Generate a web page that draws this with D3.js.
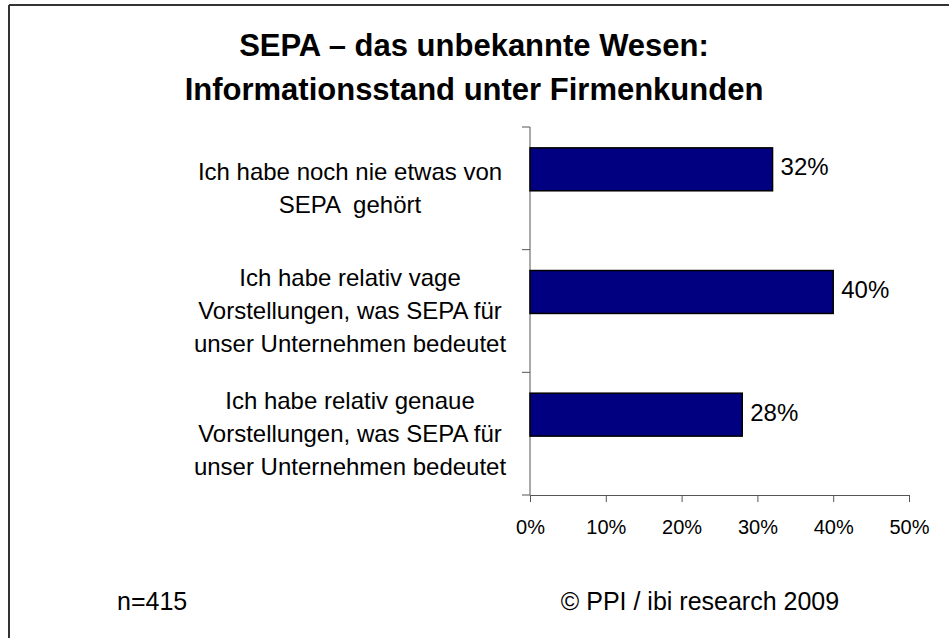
<!DOCTYPE html>
<html>
<head>
<meta charset="utf-8">
<script src="https://cdn.jsdelivr.net/npm/d3@7"></script>
<style>
  body { margin: 0; background: #fff; }
  svg text { font-family: "Liberation Sans", Arial, sans-serif; fill: #000; }
</style>
</head>
<body>
<div id="chart"></div>
<script>
// Daten
var categories = [
  ["Ich habe noch nie etwas von", "SEPA  gehört"],
  ["Ich habe relativ vage", "Vorstellungen, was SEPA für", "unser Unternehmen bedeutet"],
  ["Ich habe relativ genaue", "Vorstellungen, was SEPA für", "unser Unternehmen bedeutet"]
];
var values = [0.32, 0.40, 0.28];
var xTicks = [0, 0.1, 0.2, 0.3, 0.4, 0.5];
var titleLines = ["SEPA – das unbekannte Wesen:", "Informationsstand unter Firmenkunden"];
var footerLeft = "n=415";
var footerRight = "© PPI / ibi research 2009";

var width = 949, height = 638;

var svg = d3.select("#chart").append("svg")
  .attr("width", width)
  .attr("height", height);

// Rahmen (nur oben und links sichtbar)
svg.append("line").attr("x1", 9).attr("x2", width).attr("y1", 5).attr("y2", 5)
  .attr("stroke", "#333").attr("stroke-width", 2);
svg.append("line").attr("x1", 9).attr("x2", 9).attr("y1", 5).attr("y2", height)
  .attr("stroke", "#333").attr("stroke-width", 2);

// Titel
svg.selectAll(".title")
  .data(titleLines)
  .enter().append("text")
  .attr("class", "title")
  .attr("x", 474)
  .attr("y", function(d, i) { return 56 + i * 44; })
  .attr("text-anchor", "middle")
  .style("font-size", "31px")
  .style("font-weight", "bold")
  .text(function(d) { return d; });

// Skalen
var idx = categories.map(function(d, i) { return i; });
var y = d3.scaleBand()
  .domain(idx)
  .range([127, 495]);

var x = d3.scaleLinear()
  .domain([0, 0.5])
  .range([530, 909]);

// X-Achse
var xAxis = svg.append("g")
  .attr("transform", "translate(0,495)")
  .call(d3.axisBottom(x).tickValues(xTicks).tickFormat(d3.format(".0%")).tickSize(7).tickSizeOuter(0).tickPadding(18));
xAxis.select(".domain").attr("stroke", "#555");
xAxis.selectAll(".tick line").attr("stroke", "#555");
xAxis.selectAll("text")
  .style("font-size", "20px")
  .attr("fill", "#000");

// Y-Achse: Teilstriche an den Kategoriegrenzen
var yAxis = svg.append("g");
yAxis.append("line")
  .attr("x1", x(0)).attr("x2", x(0))
  .attr("y1", y.range()[0]).attr("y2", y.range()[1])
  .attr("stroke", "#555");
var bounds = idx.map(function(i) { return y(i); }).concat([y.range()[1]]);
yAxis.selectAll(".ytick")
  .data(bounds)
  .enter().append("line")
  .attr("class", "ytick")
  .attr("x1", x(0) - 8).attr("x2", x(0))
  .attr("y1", function(d) { return d; })
  .attr("y2", function(d) { return d; })
  .attr("stroke", "#555");

// Kategorienbeschriftung
var lineH = 33;
svg.selectAll(".catlabel")
  .data(categories)
  .enter().append("text")
  .attr("class", "catlabel")
  .attr("text-anchor", "middle")
  .style("font-size", "24px")
  .each(function(lines, i) {
    var cy = y(i) + y.bandwidth() / 2;
    var top = cy - (lines.length - 1) * lineH / 2 + 8;
    d3.select(this).selectAll("tspan")
      .data(lines)
      .enter().append("tspan")
      .attr("x", 350)
      .attr("y", function(d, j) { return top + j * lineH; })
      .style("white-space", "pre")
      .text(function(d) { return d; });
  });

// Balken
svg.selectAll(".bar")
  .data(values)
  .enter().append("rect")
  .attr("class", "bar")
  .attr("x", x(0))
  .attr("y", function(d, i) { return y(i) + y.bandwidth() * 0.17; })
  .attr("width", function(d) { return x(d) - x(0); })
  .attr("height", y.bandwidth() * 0.35)
  .attr("fill", "#000080")
  .attr("stroke", "#000")
  .attr("stroke-width", 1.5);

// Wertebeschriftung
svg.selectAll(".vlabel")
  .data(values)
  .enter().append("text")
  .attr("class", "vlabel")
  .attr("x", function(d) { return x(d) + 8; })
  .attr("y", function(d, i) { return y(i) + y.bandwidth() * 0.345 + 6; })
  .style("font-size", "24px")
  .text(function(d) { return d3.format(".0%")(d); });

// Fußzeile
svg.append("text")
  .attr("x", 117)
  .attr("y", 610)
  .style("font-size", "25px")
  .text(footerLeft);
svg.append("text")
  .attr("x", 700)
  .attr("y", 610)
  .attr("text-anchor", "middle")
  .style("font-size", "25px")
  .text(footerRight);
</script>
</body>
</html>
